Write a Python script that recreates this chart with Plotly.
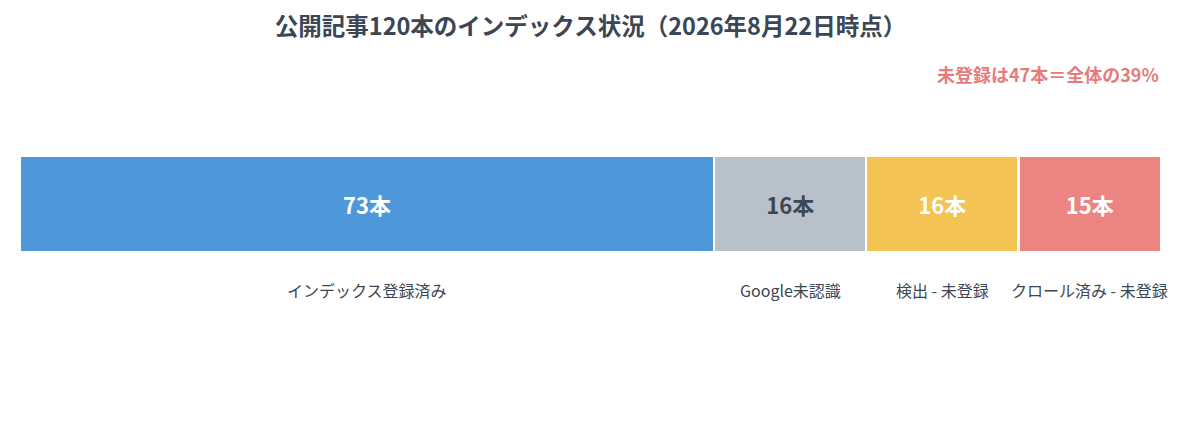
import plotly.graph_objects as go

categories = ["インデックス登録済み", "Google未認識", "検出 - 未登録", "クロール済み - 未登録"]
counts = [73, 16, 16, 15]
bar_colors = ["#4E98DA", "#B8C0CA", "#F3C353", "#EC8482"]
text_colors = ["#FFFFFF", "#3B4754", "#FFFFFF", "#FFFFFF"]

FONT = "Noto Sans CJK JP"
total = sum(counts)
unregistered = sum(counts[1:])

fig = go.Figure()
for name, n, c, tc in zip(categories, counts, bar_colors, text_colors):
    fig.add_trace(go.Bar(
        x=[n],
        y=[0],
        orientation="h",
        name=name,
        width=1,
        marker=dict(color=c, line=dict(color="white", width=2.5)),
        texttemplate="%{x}本",
        textposition="inside",
        insidetextanchor="middle",
        textfont=dict(family=FONT, size=22, color=tc, weight="bold"),
        hoverinfo="skip",
    ))

# labels under each segment
left = 0
for name, n in zip(categories, counts):
    fig.add_annotation(
        x=left + n / 2, y=-0.9, xref="x", yref="y",
        text=name, showarrow=False,
        font=dict(family=FONT, size=16, color="#3B4754"),
    )
    left += n

# plot area spans 92..324 px (232 px)
fig.add_annotation(
    x=1, xref="paper", xanchor="right",
    y=1 + (92 - 66) / 232, yref="paper", yanchor="middle",
    text=f"未登録は{unregistered}本＝全体の{round(unregistered / total * 100)}%",
    showarrow=False,
    font=dict(family=FONT, size=18, color="#E57C7B", weight="bold"),
)

fig.update_layout(
    width=1200, height=432,
    barmode="stack",
    showlegend=False,
    plot_bgcolor="white",
    paper_bgcolor="white",
    margin=dict(l=12, r=47, t=92, b=108),
    title=dict(
        text="公開記事120本のインデックス状況（2026年8月22日時点）",
        x=0.5, xref="paper", xanchor="center",
        y=1 - 19 / 432, yanchor="middle",
        font=dict(family=FONT, size=23.5, color="#3B4754", weight="bold"),
    ),
    xaxis=dict(range=[0, total], visible=False, fixedrange=True),
    yaxis=dict(range=[-1.3333, 1.0833], visible=False, fixedrange=True),
)

fig.write_html("out.html")
